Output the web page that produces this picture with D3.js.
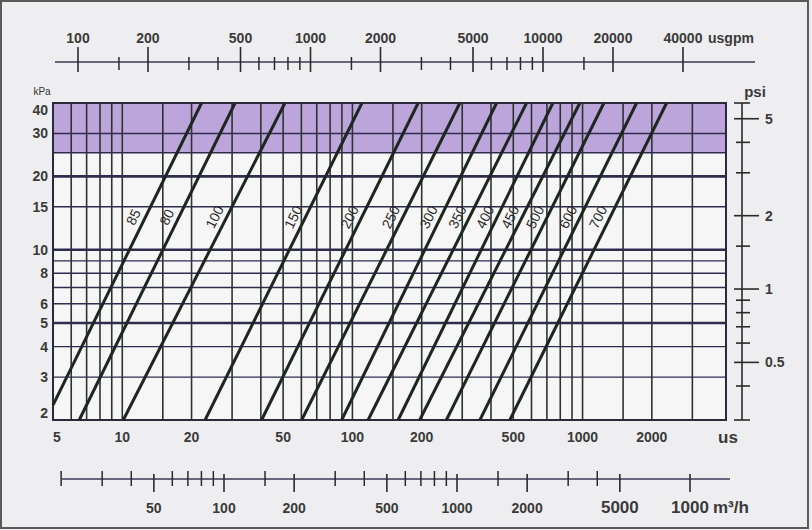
<!DOCTYPE html>
<html>
<head>
  <meta charset="utf-8">
  <title>Pressure drop chart</title>
  <script src="https://d3js.org/d3.v7.min.js"></script>
  <style>
    body {
      margin: 0;
      background: #ebebed;
      font-family: "Liberation Sans", Arial, sans-serif;
    }
    .tick-label {
      font-size: 14px;
      font-weight: bold;
      fill: #3a3a3a;
    }
    .size-label {
      font-size: 14px;
      fill: #2a2a2a;
    }
  </style>
</head>
<body>
  <svg id="chart"></svg>

  <script>
    // chart data
    const xGrid = [5, 6, 7, 8, 9, 10, 15, 20, 30, 40, 50, 60, 70, 80, 90, 100, 150, 200, 300, 400, 500, 600, 700, 800, 900, 1000, 1500, 2000, 3000];
    const xLabels = [5, 10, 20, 50, 100, 200, 500, 1000, 2000];
    const yGrid = [2, 3, 4, 5, 6, 7, 8, 9, 10, 15, 20, 25, 30, 40];
    const yThick = [5, 10, 20];
    const yLabels = [2, 3, 4, 5, 6, 8, 10, 15, 20, 30, 40];
    const bandRange = [25, 40];

    // one diagonal per pipe size: flow at the low end and at the 40 kPa end
    const sizes = ["85", "80", "100", "150", "200", "250", "300", "350", "400", "450", "500", "600", "700"];
    const lowFlow = [5, 6.5, 10.1, 22.9, 40.3, 60.2, 89.8, 117, 158, 196, 256, 358, 483];
    const lowKpa = [2.3, 2, 2, 2, 2, 2, 2, 2, 2, 2, 2, 2, 2];
    const highFlow = [22.1, 30.9, 50.9, 110, 193, 293, 423, 571, 743, 973, 1238, 1717, 2318];
    const highKpa = [40, 40, 40, 40, 40, 40, 40, 40, 40, 40, 40, 40, 40];
    const labelKpa = 13;

    const psiMajor = [0.5, 1, 2, 5];
    const psiMinor = [0.4, 0.6, 0.7, 0.8, 0.9, 1.5, 3, 4];
    const kpaPerPsi = 6.895;

    const gpmMajor = [100, 200, 500, 1000, 2000, 5000, 10000, 20000, 40000];
    const gpmMinor = [150, 300, 400, 600, 700, 800, 900, 1500, 3000, 4000, 6000, 7000, 8000, 9000, 15000];

    const m3hMajor = [50, 100, 200, 500, 1000, 2000, 5000, 10000];
    const m3hText = ["50", "100", "200", "500", "1000", "2000", "5000", "1000"];
    const m3hMinor = [20, 30, 40, 60, 70, 80, 90, 150, 300, 400, 600, 700, 800, 900, 1500, 3000, 4000];

    const width = 812;
    const height = 530;

    const svg = d3.select("#chart")
      .attr("width", width)
      .attr("height", height);

    // scales
    const x = d3.scaleLog().domain([5, 4200]).range([53, 726]);
    const y = d3.scaleLog().domain([2, 40]).range([420, 103]);
    const gpm = d3.scaleLog().domain([100, 10000]).range([78, 543]);
    const m3h = d3.scaleLog().domain([100, 1000]).range([224, 457]);

    // page frame
    svg.append("rect")
      .attr("x", 1).attr("y", 1)
      .attr("width", 807).attr("height", 527)
      .attr("fill", "#eeeef0")
      .attr("stroke", "#5a5a5a")
      .attr("stroke-width", 2);

    // plot background
    svg.append("rect")
      .attr("x", x.range()[0]).attr("y", y.range()[1])
      .attr("width", x.range()[1] - x.range()[0])
      .attr("height", y.range()[0] - y.range()[1])
      .attr("fill", "#f6f6f6");

    // purple band
    svg.append("rect")
      .attr("x", x.range()[0])
      .attr("y", y(bandRange[1]))
      .attr("width", x.range()[1] - x.range()[0])
      .attr("height", y(bandRange[0]) - y(bandRange[1]))
      .attr("fill", "#bba5db");

    // vertical grid
    svg.append("g")
      .selectAll("line")
      .data(xGrid)
      .join("line")
      .attr("x1", d => x(d)).attr("x2", d => x(d))
      .attr("y1", y.range()[1]).attr("y2", y.range()[0])
      .attr("stroke", "#2f332f")
      .attr("stroke-width", 1.6);

    // horizontal grid
    svg.append("g")
      .selectAll("line")
      .data(yGrid)
      .join("line")
      .attr("x1", x.range()[0]).attr("x2", x.range()[1])
      .attr("y1", d => y(d)).attr("y2", d => y(d))
      .attr("stroke", "#2f2c4c")
      .attr("stroke-width", d => yThick.includes(d) ? 2.6 : 1.4);

    // plot border
    svg.append("rect")
      .attr("x", x.range()[0]).attr("y", y.range()[1])
      .attr("width", x.range()[1] - x.range()[0])
      .attr("height", y.range()[0] - y.range()[1])
      .attr("fill", "none")
      .attr("stroke", "#2a2a3a")
      .attr("stroke-width", 2);

    // diagonal lines
    const lines = sizes.map((s, i) => ({
      size: s,
      p0: [x(lowFlow[i]), y(lowKpa[i])],
      p1: [x(highFlow[i]), y(highKpa[i])]
    }));

    svg.append("g")
      .selectAll("line")
      .data(lines)
      .join("line")
      .attr("x1", d => d.p0[0]).attr("y1", d => d.p0[1])
      .attr("x2", d => d.p1[0]).attr("y2", d => d.p1[1])
      .attr("stroke", "#1e2620")
      .attr("stroke-width", 3);

    // size labels along each line
    svg.append("g")
      .selectAll("text")
      .data(lines)
      .join("text")
      .attr("class", "size-label")
      .attr("text-anchor", "middle")
      .attr("dominant-baseline", "central")
      .attr("transform", d => {
        const dx = d.p1[0] - d.p0[0];
        const dy = d.p1[1] - d.p0[1];
        const len = Math.hypot(dx, dy);
        const ly = y(labelKpa);
        const lx = d.p0[0] + (ly - d.p0[1]) / dy * dx;
        const ux = dx / len, uy = dy / len;
        const off = 11;
        const angle = Math.atan2(dy, dx) * 180 / Math.PI;
        return `translate(${lx + uy * off}, ${ly - ux * off}) rotate(${angle})`;
      })
      .text(d => d.size);

    // bottom plot labels
    svg.append("g")
      .selectAll("text")
      .data(xLabels)
      .join("text")
      .attr("class", "tick-label")
      .attr("x", d => x(d))
      .attr("y", 442)
      .attr("text-anchor", (d, i) => i === 0 ? "start" : "middle")
      .text(d => d);

    svg.append("text")
      .attr("class", "tick-label")
      .attr("x", 718).attr("y", 443)
      .style("font-size", "17px")
      .text("us");

    // left kPa labels
    svg.append("g")
      .selectAll("text")
      .data(yLabels)
      .join("text")
      .attr("class", "tick-label")
      .attr("x", 48)
      .attr("y", d => Math.min(Math.max(y(d), 110), 413))
      .attr("dy", "0.35em")
      .attr("text-anchor", "end")
      .text(d => d);

    svg.append("text")
      .attr("x", 42).attr("y", 95)
      .attr("text-anchor", "middle")
      .style("font-size", "10px")
      .attr("fill", "#333")
      .text("kPa");

    // psi axis on the right
    const psiX = 742;
    const psiG = svg.append("g").attr("stroke", "#2a2a2a");
    psiG.append("line")
      .attr("x1", psiX).attr("x2", psiX)
      .attr("y1", y.range()[1]).attr("y2", y.range()[0])
      .attr("stroke-width", 1.6);
    psiG.selectAll("line.cap")
      .data(y.range())
      .join("line")
      .attr("class", "cap")
      .attr("x1", psiX - 8).attr("x2", psiX + 8)
      .attr("y1", d => d).attr("y2", d => d)
      .attr("stroke-width", 1.6);
    psiG.selectAll("line.minor")
      .data(psiMinor)
      .join("line")
      .attr("class", "minor")
      .attr("x1", psiX - 6).attr("x2", psiX + 8)
      .attr("y1", d => y(d * kpaPerPsi)).attr("y2", d => y(d * kpaPerPsi))
      .attr("stroke-width", 1.6);
    psiG.selectAll("line.major")
      .data(psiMajor)
      .join("line")
      .attr("class", "major")
      .attr("x1", psiX - 8).attr("x2", psiX + 17)
      .attr("y1", d => y(d * kpaPerPsi)).attr("y2", d => y(d * kpaPerPsi))
      .attr("stroke-width", 1.6);

    svg.append("g")
      .selectAll("text")
      .data(psiMajor)
      .join("text")
      .attr("class", "tick-label")
      .attr("x", psiX + 23)
      .attr("y", d => y(d * kpaPerPsi))
      .attr("dy", "0.35em")
      .text(d => d);

    svg.append("text")
      .attr("class", "tick-label")
      .attr("x", 755).attr("y", 97)
      .attr("text-anchor", "middle")
      .style("font-size", "15px")
      .text("psi");

    // top usgpm axis
    const topY = 62;
    const topG = svg.append("g").attr("stroke", "#2a2a2a");
    topG.append("line")
      .attr("x1", 55).attr("x2", 755)
      .attr("y1", topY).attr("y2", topY)
      .attr("stroke", "#3a3a55")
      .attr("stroke-width", 1.4);
    topG.selectAll("line.minor")
      .data(gpmMinor)
      .join("line")
      .attr("class", "minor")
      .attr("x1", d => gpm(d)).attr("x2", d => gpm(d))
      .attr("y1", topY - 5).attr("y2", topY + 8)
      .attr("stroke-width", 1.5);
    topG.selectAll("line.major")
      .data(gpmMajor)
      .join("line")
      .attr("class", "major")
      .attr("x1", d => gpm(d)).attr("x2", d => gpm(d))
      .attr("y1", topY - 15).attr("y2", topY + 10)
      .attr("stroke-width", 1.6);

    svg.append("g")
      .selectAll("text")
      .data(gpmMajor)
      .join("text")
      .attr("class", "tick-label")
      .attr("x", d => gpm(d))
      .attr("y", 43)
      .attr("text-anchor", "middle")
      .text(d => d);

    svg.append("text")
      .attr("class", "tick-label")
      .attr("x", 708).attr("y", 43)
      .text("usgpm");

    // bottom m3/h axis
    const botY = 479;
    const botG = svg.append("g").attr("stroke", "#2a2a2a");
    botG.append("line")
      .attr("x1", 62).attr("x2", 730)
      .attr("y1", botY).attr("y2", botY)
      .attr("stroke", "#3a3a55")
      .attr("stroke-width", 1.4);
    botG.selectAll("line.minor")
      .data(m3hMinor)
      .join("line")
      .attr("class", "minor")
      .attr("x1", d => m3h(d)).attr("x2", d => m3h(d))
      .attr("y1", botY - 8).attr("y2", botY + 7)
      .attr("stroke-width", 1.5);
    botG.selectAll("line.major")
      .data(m3hMajor)
      .join("line")
      .attr("class", "major")
      .attr("x1", d => m3h(d)).attr("x2", d => m3h(d))
      .attr("y1", botY - 5).attr("y2", botY + 13)
      .attr("stroke-width", 1.6);

    svg.append("g")
      .selectAll("text")
      .data(m3hMajor)
      .join("text")
      .attr("class", "tick-label")
      .attr("x", d => m3h(d))
      .attr("y", 513)
      .attr("text-anchor", "middle")
      .style("font-size", (d, i) => i >= 6 ? "17px" : "14px")
      .text((d, i) => m3hText[i]);

    svg.append("text")
      .attr("class", "tick-label")
      .attr("x", 713).attr("y", 513)
      .style("font-size", "17px")
      .text("m³/h");
  </script>
</body>
</html>
